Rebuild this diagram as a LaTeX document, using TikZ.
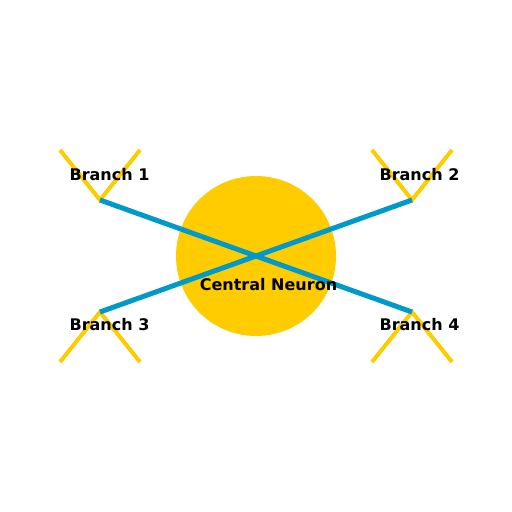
\documentclass[tikz,border=0pt]{standalone}
\usepackage{fontspec}
\setmainfont{DejaVu Sans}
\definecolor{neuronyellow}{HTML}{FFCC00}
\definecolor{axonblue}{HTML}{0099CC}
\begin{document}
\begin{tikzpicture}[x=1bp,y=-1bp,
  dendrite/.style={draw=neuronyellow,line width=4bp},
  axon/.style={draw=axonblue,line width=5bp},
  lbl/.style={font=\fontsize{16bp}{19bp}\selectfont\bfseries,text=black,inner sep=0pt}]
\useasboundingbox[fill=white] (0,0) rectangle (512,512);
\fill[neuronyellow] (256,256) circle[radius=80];
% branch points
\coordinate (b1) at (100,200);
\coordinate (b2) at (412,200);
\coordinate (b3) at (100,312);
\coordinate (b4) at (412,312);
\coordinate (c) at (256,256);
% dendrite tips
\coordinate (t1a) at (60,150); \coordinate (t1b) at (140,150);
\coordinate (t2a) at (372,150); \coordinate (t2b) at (452,150);
\coordinate (t3a) at (60,362); \coordinate (t3b) at (140,362);
\coordinate (t4a) at (372,362); \coordinate (t4b) at (452,362);
\draw[dendrite] (t1a) -- (b1) -- (t1b);
\draw[dendrite] (t2a) -- (b2) -- (t2b);
\draw[dendrite] (t3a) -- (b3) -- (t3b);
\draw[dendrite] (t4a) -- (b4) -- (t4b);
\draw[axon] (b1) -- (c) -- (b4);
\draw[axon] (b3) -- (c) -- (b2);
\node[lbl] (l1) at (109.5,175) {Branch 1};
\node[lbl] (l2) at (419.5,175) {Branch 2};
\node[lbl] (l3) at (109.5,325) {Branch 3};
\node[lbl] (l4) at (419.5,325) {Branch 4};
\node[lbl] (cn) at (268.5,285) {Central Neuron};
\end{tikzpicture}
\end{document}
